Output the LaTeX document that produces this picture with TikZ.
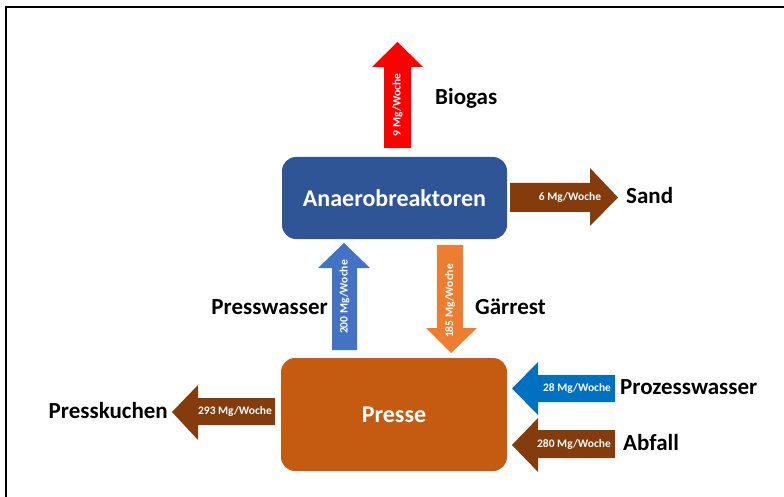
\documentclass[tikz,border=0pt]{standalone}
\usepackage{fontspec}
\setmainfont{Carlito}
\usepackage{xcolor}
\usepackage{tikz}
\usetikzlibrary{positioning}
\definecolor{reaktorblau}{HTML}{2F5597}
\definecolor{presseorange}{HTML}{C55A11}
\definecolor{braun}{HTML}{843C0C}
\definecolor{gasrot}{HTML}{FF0000}
\definecolor{wasserblau}{HTML}{4472C4}
\definecolor{garorange}{HTML}{ED7D31}
\definecolor{prozessblau}{HTML}{0070C0}
\begin{document}
\begin{tikzpicture}[x=1pt, y=-1pt,
		box/.style={rounded corners=14pt, text=white, inner sep=0pt,
			font=\fontsize{24}{28}\selectfont\bfseries},
		rate/.style={text=white, inner sep=0pt, font=\fontsize{11.5}{13}\selectfont\bfseries},
		stoff/.style={inner sep=0pt, font=\fontsize{23}{27}\selectfont\bfseries}]
			\useasboundingbox (0,0) rectangle (784,497);
			\fill[white] (0,0) rectangle (784,497);
			\draw[line width=2pt] (6,497) -- (6,7) -- (784,7);
			\node[box, fill=reaktorblau, minimum width=225pt, minimum height=82pt]
			(reaktor) at (394.5,198) {Anaerobreaktoren};
			\node[box, fill=presseorange, minimum width=226pt, minimum height=113pt]
			(presse) at (394,414.5) {Presse};
			\fill[gasrot] (384,148) -- (384,67) -- (372,67) -- (397.5,42) -- (423,67)
			-- (411,67) -- (411,148) -- cycle;
			\node[rate, rotate=90] (biogasrate) at (397.5,105) {9 Mg/Woche};
			\node[stoff, anchor=mid west] (biogas) at (435,102) {Biogas};
			\fill[braun] (510,183) -- (590,183) -- (590,168) -- (618,197.5) -- (590,226)
			-- (590,212) -- (510,212) -- cycle;
			\node[rate] (sandrate) at (570,197.5) {6 Mg/Woche};
			\node[stoff, anchor=mid west] (sand) at (626,201) {Sand};
			\fill[wasserblau] (332,350) -- (332,268) -- (318,268) -- (344,243) -- (370,268)
			-- (357,268) -- (357,350) -- cycle;
			\node[rate, rotate=90] (presswasserrate) at (344.5,297) {200 Mg/Woche};
			\node[stoff, anchor=mid east] (presswasser) at (328,312) {Presswasser};
			\fill[garorange] (437,245) -- (437,328) -- (426,328) -- (451,353) -- (477,328)
			-- (463,328) -- (463,245) -- cycle;
			\node[rate, rotate=90] (gaerrestrate) at (450,301) {185 Mg/Woche};
			\node[stoff, anchor=mid west] (gaerrest) at (475,312) {Gärrest};
			\fill[braun] (275,398) -- (198,398) -- (198,385) -- (172,412) -- (198,440)
			-- (198,425) -- (275,425) -- cycle;
			\node[rate] (presskuchenrate) at (235,411.5) {293 Mg/Woche};
			\node[stoff, anchor=mid east] (presskuchen) at (168,416) {Presskuchen};
			\fill[prozessblau] (615,375) -- (538,375) -- (538,362) -- (512,388.5) -- (538,415)
			-- (538,402) -- (615,402) -- cycle;
			\node[rate] (prozessrate) at (577,388.5) {28 Mg/Woche};
			\node[stoff, anchor=mid west] (prozesswasser) at (620,392) {Prozesswasser};
			\fill[braun] (615,430) -- (538,430) -- (538,418) -- (512,445) -- (538,472)
			-- (538,458) -- (615,458) -- cycle;
			\node[rate] (abfallrate) at (574,444) {280 Mg/Woche};
			\node[stoff, anchor=mid west] (abfall) at (623,448) {Abfall};
		\end{tikzpicture}
\end{document}
